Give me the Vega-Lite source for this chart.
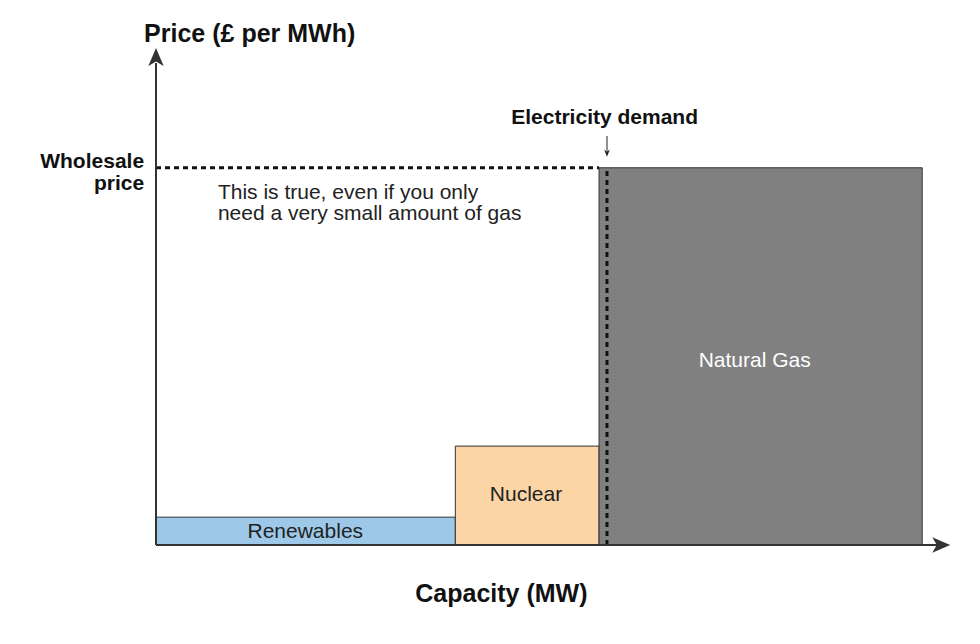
{
  "$schema": "https://vega.github.io/schema/vega-lite/v6.json",
  "width": 794,
  "height": 497,
  "autosize": "none",
  "padding": {"left": 156, "top": 48, "right": 30, "bottom": 99},
  "background": "white",
  "config": {"view": {"stroke": null}, "font": "Liberation Sans"},
  "datasets": {
    "sources": [
      {"source": "Renewables", "start": 0, "end": 37.7, "base": 0, "price": 5.6},
      {"source": "Nuclear", "start": 37.7, "end": 55.8, "base": 0, "price": 19.9},
      {"source": "Natural Gas", "start": 55.8, "end": 96.5, "base": 0, "price": 75.9}
    ],
    "darkLabels": [
      {"label": "Renewables", "x": 18.8, "y": 2.7},
      {"label": "Nuclear", "x": 46.6, "y": 10.0}
    ],
    "lightLabels": [
      {"label": "Natural Gas", "x": 75.4, "y": 37.0}
    ],
    "dashed": [
      {"x": 0, "x2": 55.8, "y": 75.9, "y2": 75.9},
      {"x": 56.8, "x2": 56.8, "y": 0, "y2": 75.9}
    ],
    "axes": [
      {"x": 0, "x2": 98.5, "y": 0, "y2": 0},
      {"x": 0, "x2": 0, "y": 0, "y2": 97}
    ],
    "arrowRight": [{"x": 98.9, "y": 0}],
    "arrowUp": [{"x": 0, "y": 98.2}],
    "demandArrow": [{"x": 56.8, "x2": 56.8, "y": 82.3, "y2": 79.3}],
    "demandTip": [{"x": 56.8, "y": 78.8}],
    "bigBold": [
      {"text": "Price (£ per MWh)", "x": 11.8, "y": 102.8},
      {"text": "Capacity (MW)", "x": 43.5, "y": -9.8}
    ],
    "demandText": [
      {"text": "Electricity demand", "x": 56.5, "y": 86.0}
    ],
    "wholesale": [
      {"text": "Wholesale", "x": -1.5, "y": 77.0},
      {"text": "price", "x": -1.5, "y": 72.6}
    ],
    "note": [
      {"text": "This is true, even if you only", "x": 7.8, "y": 70.8},
      {"text": "need a very small amount of gas", "x": 7.8, "y": 66.6}
    ]
  },
  "layer": [
    {
      "data": {"name": "sources"},
      "mark": {"type": "rect", "stroke": "#333333", "strokeWidth": 1},
      "encoding": {
        "x": {"field": "start", "type": "quantitative", "scale": {"domain": [0, 100], "nice": false, "zero": false}, "axis": null},
        "x2": {"field": "end"},
        "y": {"field": "base", "type": "quantitative", "scale": {"domain": [0, 100], "nice": false, "zero": false}, "axis": null},
        "y2": {"field": "price"},
        "color": {"field": "source", "type": "nominal", "scale": {"domain": ["Renewables", "Nuclear", "Natural Gas"], "range": ["#9ec8e8", "#fbd5a5", "#808080"]}, "legend": null}
      }
    },
    {
      "data": {"name": "darkLabels"},
      "mark": {"type": "text", "fontSize": 21, "align": "center", "baseline": "middle", "color": "#222222"},
      "encoding": {
        "x": {"field": "x", "type": "quantitative", "scale": {"domain": [0, 100], "nice": false, "zero": false}, "axis": null},
        "y": {"field": "y", "type": "quantitative", "scale": {"domain": [0, 100], "nice": false, "zero": false}, "axis": null},
        "text": {"field": "label", "type": "nominal"}
      }
    },
    {
      "data": {"name": "lightLabels"},
      "mark": {"type": "text", "fontSize": 21, "align": "center", "baseline": "middle", "color": "#ffffff"},
      "encoding": {
        "x": {"field": "x", "type": "quantitative", "scale": {"domain": [0, 100], "nice": false, "zero": false}, "axis": null},
        "y": {"field": "y", "type": "quantitative", "scale": {"domain": [0, 100], "nice": false, "zero": false}, "axis": null},
        "text": {"field": "label", "type": "nominal"}
      }
    },
    {
      "data": {"name": "dashed"},
      "mark": {"type": "rule", "color": "#111111", "strokeWidth": 3, "strokeDash": [5, 4]},
      "encoding": {
        "x": {"field": "x", "type": "quantitative", "scale": {"domain": [0, 100], "nice": false, "zero": false}, "axis": null},
        "x2": {"field": "x2"},
        "y": {"field": "y", "type": "quantitative", "scale": {"domain": [0, 100], "nice": false, "zero": false}, "axis": null},
        "y2": {"field": "y2"}
      }
    },
    {
      "data": {"name": "axes"},
      "mark": {"type": "rule", "color": "#333333", "strokeWidth": 2},
      "encoding": {
        "x": {"field": "x", "type": "quantitative", "scale": {"domain": [0, 100], "nice": false, "zero": false}, "axis": null},
        "x2": {"field": "x2"},
        "y": {"field": "y", "type": "quantitative", "scale": {"domain": [0, 100], "nice": false, "zero": false}, "axis": null},
        "y2": {"field": "y2"}
      }
    },
    {
      "data": {"name": "arrowRight"},
      "mark": {"type": "point", "shape": "M1,0L-1,-0.85L-0.5,0L-1,0.85Z", "filled": true, "color": "#333333", "size": 324, "opacity": 1},
      "encoding": {
        "x": {"field": "x", "type": "quantitative", "scale": {"domain": [0, 100], "nice": false, "zero": false}, "axis": null},
        "y": {"field": "y", "type": "quantitative", "scale": {"domain": [0, 100], "nice": false, "zero": false}, "axis": null}
      }
    },
    {
      "data": {"name": "arrowUp"},
      "mark": {"type": "point", "shape": "M0,-1L-0.85,1L0,0.5L0.85,1Z", "filled": true, "color": "#333333", "size": 324, "opacity": 1},
      "encoding": {
        "x": {"field": "x", "type": "quantitative", "scale": {"domain": [0, 100], "nice": false, "zero": false}, "axis": null},
        "y": {"field": "y", "type": "quantitative", "scale": {"domain": [0, 100], "nice": false, "zero": false}, "axis": null}
      }
    },
    {
      "data": {"name": "demandArrow"},
      "mark": {"type": "rule", "color": "#222222", "strokeWidth": 1},
      "encoding": {
        "x": {"field": "x", "type": "quantitative", "scale": {"domain": [0, 100], "nice": false, "zero": false}, "axis": null},
        "x2": {"field": "x2"},
        "y": {"field": "y", "type": "quantitative", "scale": {"domain": [0, 100], "nice": false, "zero": false}, "axis": null},
        "y2": {"field": "y2"}
      }
    },
    {
      "data": {"name": "demandTip"},
      "mark": {"type": "point", "shape": "M0,1L-0.8,-1L0,-0.5L0.8,-1Z", "filled": true, "color": "#222222", "size": 49, "opacity": 1},
      "encoding": {
        "x": {"field": "x", "type": "quantitative", "scale": {"domain": [0, 100], "nice": false, "zero": false}, "axis": null},
        "y": {"field": "y", "type": "quantitative", "scale": {"domain": [0, 100], "nice": false, "zero": false}, "axis": null}
      }
    },
    {
      "data": {"name": "bigBold"},
      "mark": {"type": "text", "fontWeight": "bold", "fontSize": 25, "align": "center", "baseline": "middle", "color": "#111111"},
      "encoding": {
        "x": {"field": "x", "type": "quantitative", "scale": {"domain": [0, 100], "nice": false, "zero": false}, "axis": null},
        "y": {"field": "y", "type": "quantitative", "scale": {"domain": [0, 100], "nice": false, "zero": false}, "axis": null},
        "text": {"field": "text", "type": "nominal"}
      }
    },
    {
      "data": {"name": "demandText"},
      "mark": {"type": "text", "fontWeight": "bold", "fontSize": 21, "align": "center", "baseline": "middle", "color": "#111111"},
      "encoding": {
        "x": {"field": "x", "type": "quantitative", "scale": {"domain": [0, 100], "nice": false, "zero": false}, "axis": null},
        "y": {"field": "y", "type": "quantitative", "scale": {"domain": [0, 100], "nice": false, "zero": false}, "axis": null},
        "text": {"field": "text", "type": "nominal"}
      }
    },
    {
      "data": {"name": "wholesale"},
      "mark": {"type": "text", "fontWeight": "bold", "fontSize": 21, "align": "right", "baseline": "middle", "color": "#111111"},
      "encoding": {
        "x": {"field": "x", "type": "quantitative", "scale": {"domain": [0, 100], "nice": false, "zero": false}, "axis": null},
        "y": {"field": "y", "type": "quantitative", "scale": {"domain": [0, 100], "nice": false, "zero": false}, "axis": null},
        "text": {"field": "text", "type": "nominal"}
      }
    },
    {
      "data": {"name": "note"},
      "mark": {"type": "text", "fontSize": 21, "align": "left", "baseline": "middle", "color": "#222222"},
      "encoding": {
        "x": {"field": "x", "type": "quantitative", "scale": {"domain": [0, 100], "nice": false, "zero": false}, "axis": null},
        "y": {"field": "y", "type": "quantitative", "scale": {"domain": [0, 100], "nice": false, "zero": false}, "axis": null},
        "text": {"field": "text", "type": "nominal"}
      }
    }
  ]
}
